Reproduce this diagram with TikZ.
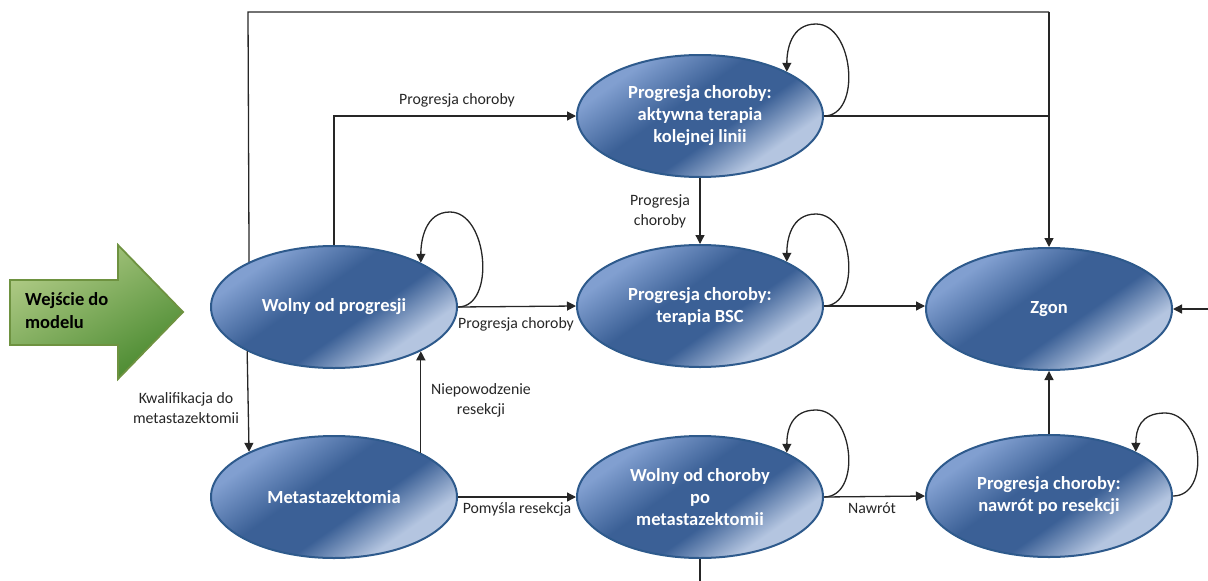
\documentclass[tikz,border=0pt]{standalone}
\usepackage{fontspec}
\setmainfont{Carlito}
\usetikzlibrary{shapes.geometric,arrows.meta,backgrounds,calc}
\definecolor{lineC}{HTML}{262626}
\definecolor{stTop}{HTML}{819FD0}
\definecolor{stMid}{HTML}{3B6096}
\definecolor{stBot}{HTML}{B4C5E0}
\definecolor{stBorder}{HTML}{2E5A8C}
\definecolor{grTop}{HTML}{B0CB86}
\definecolor{grBot}{HTML}{4A8A30}
\definecolor{grBorder}{HTML}{6E9240}
\pgfdeclareverticalshading{stateshade}{100bp}{color(0bp)=(stBot); color(30bp)=(stBot); color(43bp)=(stMid); color(56bp)=(stMid); color(72bp)=(stTop); color(100bp)=(stTop)}
\begin{document}
\begin{tikzpicture}[x=1pt,y=-1pt,
  state/.style={ellipse,draw=stBorder,line width=2pt,minimum width=246pt,minimum height=122pt,
    inner sep=0pt,shading=stateshade,shading angle=35,
    text=white,font=\fontsize{18.5}{22}\selectfont\bfseries,align=center},
  conn/.style={draw=lineC,line width=1.3pt},
  arr/.style={conn,-{Triangle[length=9pt,width=9pt]}},
  lbl/.style={font=\fontsize{15.8}{20}\selectfont,text=lineC,align=center,inner sep=0pt},
  selfloop/.style={arr}
]
\useasboundingbox (0,0) rectangle (1208,581);

% green entry arrow
\path[draw=grBorder,line width=1.8pt,top color=grTop,bottom color=grBot,shading angle=30]
  (10,280) -- (118,280) -- (118,245) -- (183,312) -- (118,379) -- (118,345) -- (10,345) -- cycle;
\node[anchor=west,align=left,font=\fontsize{18.5}{23}\selectfont\bfseries,inner sep=0pt] (entry) at (25,311) {Wejście do\\modelu};

% states
\node[state] (wolny) at (334,307) {Wolny od progresji};
\node[state] (meta) at (334,497) {Metastazektomia};
\node[state] (akt) at (700,116) {Progresja choroby:\\aktywna terapia\\kolejnej linii};
\node[state] (bsc) at (700,306) {Progresja choroby:\\terapia BSC};
\node[state] (zgon) at (1049,309) {Zgon};
\node[state] (wpo) at (700,497) {Wolny od choroby\\po\\metastazektomii};
\node[state] (naw) at (1049,496) {Progresja choroby:\\nawrót po resekcji};

\coordinate (tl) at (248,12);
\coordinate (tr) at (1049,12);
\coordinate (rin) at (1208,309);
\coordinate (bout) at (700,581);

\begin{pgfonlayer}{background}
\draw[conn] (wolny.152.9) -- (tl) -- (tr);
\draw[conn] (akt.east) -- (akt.east -| tr);
\draw[conn] (wpo.south) -- (bout);
\end{pgfonlayer}
\draw[arr] (tr) -- (zgon.north);
\draw[arr] (rin) -- (zgon.east);

\draw[arr] (wolny.north) -- (wolny.north |- akt.west) -- (akt.west);
\node[lbl] (l1) at (457,100) {Progresja choroby};

\draw[arr] (wolny.east) -- (bsc.west);
\node[lbl] (l2) at (516,324) {Progresja choroby};

\draw[arr] (akt.south) -- (bsc.north);
\node[lbl] (l3) at (660,211) {Progresja\\choroby};

\draw[arr] (bsc.east) -- (bsc.east -| zgon.west);

\draw[arr] (wolny.207.1) -- (meta.152.9);
\node[lbl] (l4) at (186,408) {Kwalifikacja do\\metastazektomii};

\draw[arr] (meta.27.1) -- (wolny.-27.1);
\node[lbl] (l5) at (481,400) {Niepowodzenie\\resekcji};

\draw[arr] (meta.east) -- (wpo.west);
\node[lbl] (l6) at (517,509) {Pomyśla resekcja};

\draw[arr] (wpo.east) -- (naw.west);
\node[lbl] (l7) at (872,508) {Nawrót};

\draw[arr] (naw.north) -- (zgon.south);

% self loops
\foreach \s/\h in {wolny/95,akt/92,bsc/92,wpo/87,naw/83}{
  \draw[selfloop] (\s.east) .. controls +(38,0) and +(38,0) .. ++(-8,-\h)
     .. controls +(-25,0) and +(0,-22) .. (\s.27.1);
}
\end{tikzpicture}
\end{document}
